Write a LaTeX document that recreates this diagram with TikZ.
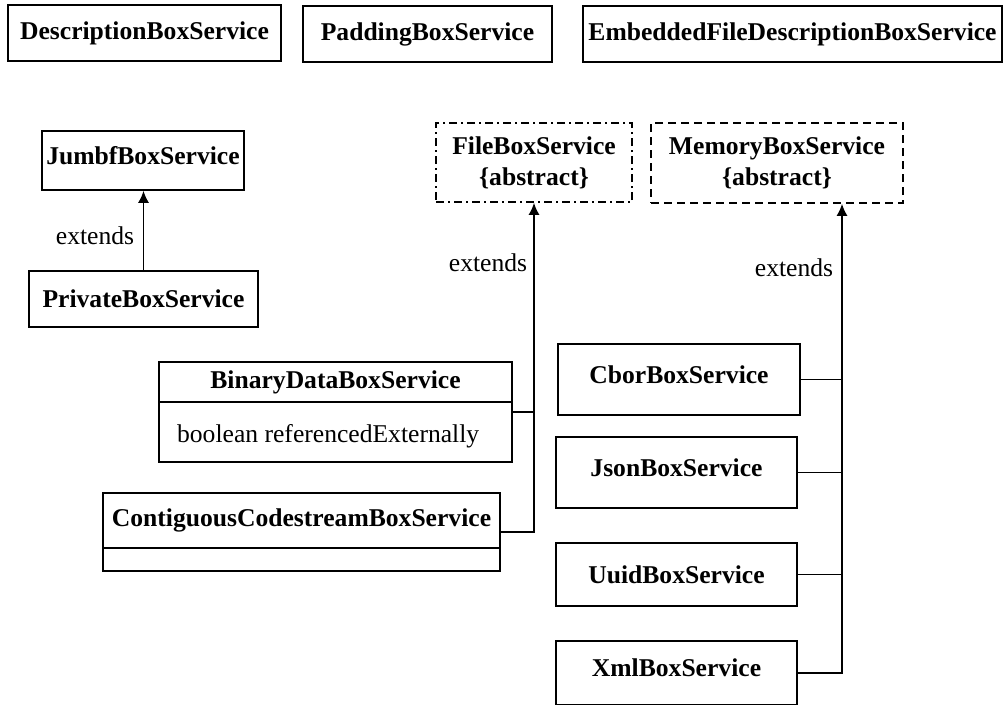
\documentclass[tikz,border=0pt]{standalone}
\usepackage{fontspec}
\setmainfont{Liberation Serif}
\usetikzlibrary{arrows.meta}
\begin{document}
\begin{tikzpicture}[x=1pt,y=-1pt,line width=1.6pt,
  font=\fontsize{25.6}{31}\selectfont,
  classBox/.style={draw,inner sep=0pt,align=center,font=\fontsize{25.6}{31}\selectfont\bfseries},
  liftText/.style={text depth=10pt},
  dashBox/.style={classBox,dash pattern=on 8pt off 5pt},
  dotDashBox/.style={classBox,dash pattern=on 8pt off 4pt on 2pt off 4pt},
  extArrow/.style={-{Latex[length=12pt,width=11pt]}}]
\useasboundingbox (0,0) rectangle (1003,704);
% top row
\node[classBox,minimum width=273pt,minimum height=56pt] (descBox) at (144.5,33) {DescriptionBoxService};
\node[classBox,minimum width=249pt,minimum height=56pt] (paddingBox) at (427.5,34) {PaddingBoxService};
\node[classBox,minimum width=419pt,minimum height=56pt] (embeddedBox) at (792.5,34) {EmbeddedFileDescriptionBoxService};
% jumbf / private
\node[classBox,liftText,minimum width=202pt,minimum height=59pt] (jumbfBox) at (143,160.5) {JumbfBoxService};
\node[classBox,minimum width=229pt,minimum height=56pt] (privateBox) at (143.5,299) {PrivateBoxService};
\draw[extArrow] (privateBox.north) -- (privateBox.north |- jumbfBox.south);
\node (extendsA) at (95,236) {extends};
% abstract services
\node[dotDashBox,minimum width=196pt,minimum height=79pt] (fileBox) at (534,162.5) {FileBoxService\\\{abstract\}};
\node[dashBox,minimum width=252pt,minimum height=80pt] (memoryBox) at (777,163) {MemoryBoxService\\\{abstract\}};
% file based
\node[classBox,minimum width=353pt,minimum height=100pt] (binaryBox) at (335.5,412) {};
\node[classBox,minimum width=353pt,minimum height=40pt,anchor=north] (binaryTitle) at (binaryBox.north) {BinaryDataBoxService};
\node[anchor=west] (binaryAttr) at (173,436) {boolean referencedExternally};
\node[classBox,minimum width=397pt,minimum height=78pt] (codeBox) at (301.5,532) {};
\node[classBox,minimum width=397pt,minimum height=55pt,anchor=north] (codeTitle) at (codeBox.north) {ContiguousCodestreamBoxService};
\draw[extArrow] (codeBox.east) -| (fileBox.south);
\draw (binaryBox.east) -- (binaryBox.east -| fileBox.south);
\node (extendsB) at (488,263) {extends};
% memory based
\node[classBox,liftText,minimum width=242pt,minimum height=71pt] (cborBox) at (679,379.5) {CborBoxService};
\node[classBox,liftText,minimum width=241pt,minimum height=71pt] (jsonBox) at (676.5,472.5) {JsonBoxService};
\node[classBox,minimum width=241pt,minimum height=63pt] (uuidBox) at (676.5,574.5) {UuidBoxService};
\node[classBox,liftText,minimum width=241pt,minimum height=64pt] (xmlBox) at (676.5,673) {XmlBoxService};
\coordinate (memoryCol) at (842,0);
\coordinate (memoryIn) at (memoryBox.south -| memoryCol);
\draw[extArrow] (xmlBox.east) -| (memoryIn);
\draw (cborBox.east) -- (cborBox.east -| memoryIn);
\draw (jsonBox.east) -- (jsonBox.east -| memoryIn);
\draw (uuidBox.east) -- (uuidBox.east -| memoryIn);
\node (extendsC) at (794,268) {extends};
\end{tikzpicture}
\end{document}
